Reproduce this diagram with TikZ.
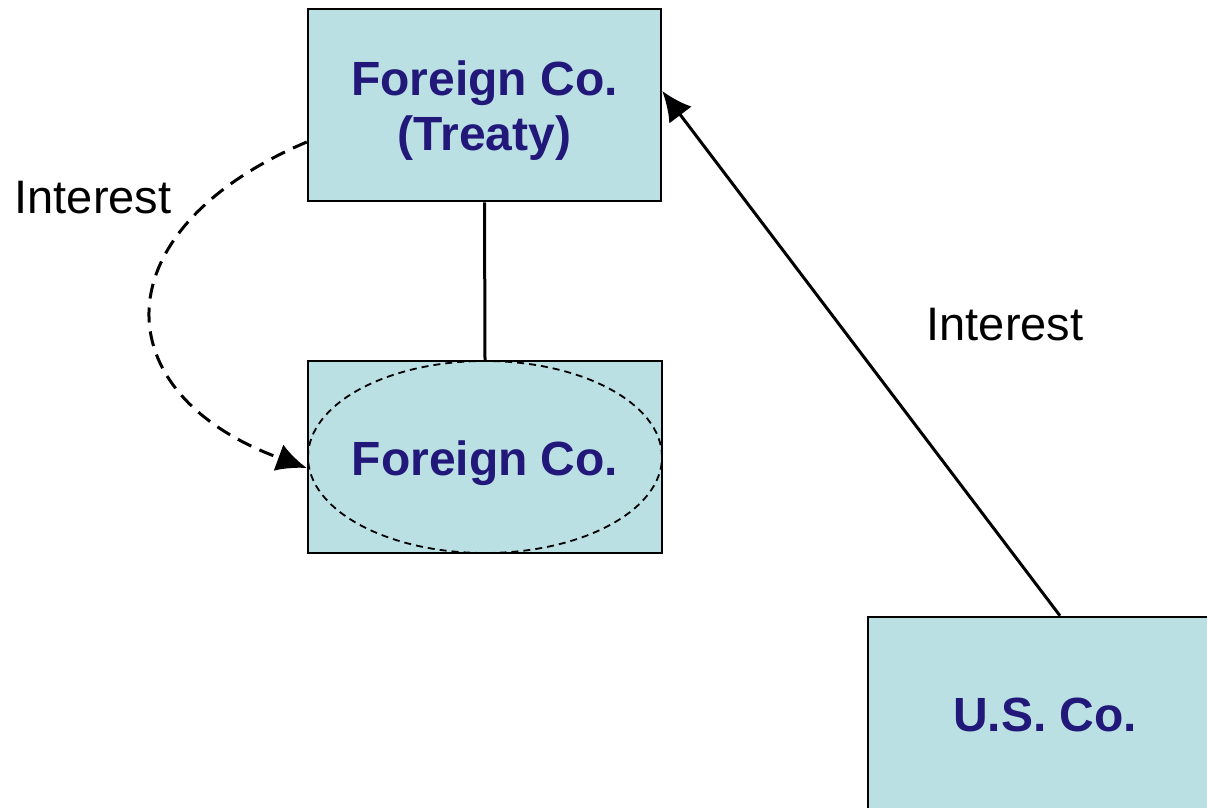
\documentclass[tikz,border=0pt]{standalone}
\usepackage{fontspec}
\setmainfont{Liberation Sans}
\usetikzlibrary{arrows.meta,shapes.geometric}
\definecolor{boxfill}{RGB}{186,224,227}
\definecolor{boxtext}{RGB}{34,24,122}
\begin{document}
\begin{tikzpicture}[x=1pt,y=-1pt,
 cobox/.style={draw=black,line width=2.5pt,fill=boxfill,text=boxtext,font=\fontsize{48}{55}\selectfont\bfseries,align=center,inner sep=0pt,minimum width=353pt,minimum height=192pt},
 lbl/.style={font=\fontsize{47}{54}\selectfont,inner sep=0pt,anchor=base},
 conn/.style={line width=3pt,draw=black},
 tip/.style={-{Latex[length=30pt,width=28pt]}}]
\useasboundingbox (0,0) rectangle (1207,807);
\clip (0,0) rectangle (1207,807);
\node[cobox] (treaty) at (484.5,105) {};
\node[text=boxtext,font=\fontsize{48}{55}\selectfont\bfseries,align=center,inner sep=0pt] (treatytext) at (484.5,111) {Foreign Co.\\(Treaty)};
\node[cobox,minimum width=354pt] (mid) at (485,457) {};
\node[draw=black,line width=1.8pt,dash pattern=on 7pt off 5pt,ellipse,minimum width=354pt,minimum height=192pt,inner sep=0pt] (ell) at (485,457) {};
\node[text=boxtext,font=\fontsize{48}{55}\selectfont\bfseries,inner sep=0pt] (midtext) at (485,463) {Foreign Co.};
\node[cobox,minimum width=354pt] (us) at (1045,713) {};
\node[text=boxtext,font=\fontsize{48}{55}\selectfont\bfseries,inner sep=0pt] (ustext) at (1045,715) {U.S. Co.};
\draw[conn] (treaty.south) -- (mid.north);
\draw[conn,tip] ([xshift=15pt]us.north) -- ([yshift=14pt]treaty.east);
\draw[conn,tip,dash pattern=on 15pt off 9pt] ([yshift=-37pt]treaty.west) .. controls (100,230) and (102,393) .. ([yshift=-11pt]mid.west);
\node[lbl] (lint) at (93,213) {Interest};
\node[lbl] (rint) at (1005,340) {Interest};
\end{tikzpicture}
\end{document}
